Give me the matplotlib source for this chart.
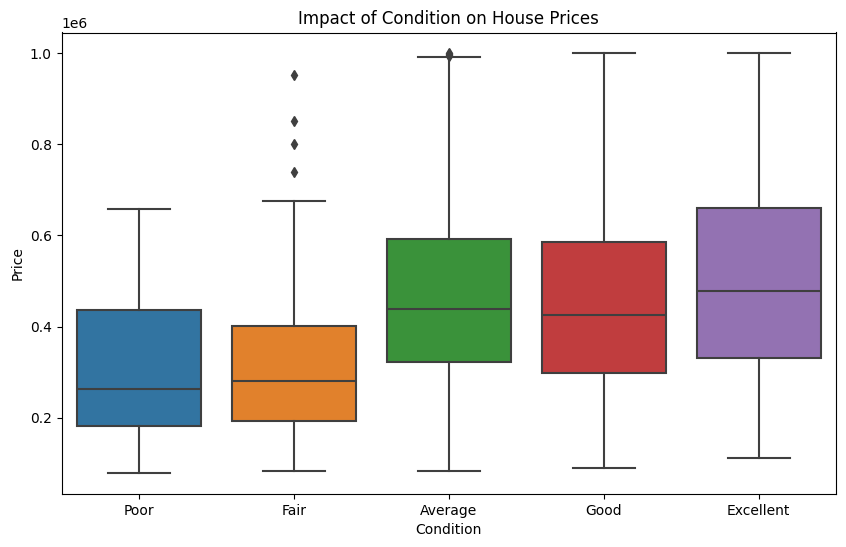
import matplotlib
matplotlib.use("Agg")
import matplotlib.pyplot as plt

# Box statistics (prices in dollars)
conditions = ["Poor", "Fair", "Average", "Good", "Excellent"]
whisker_low = [78000, 83000, 82000, 89000, 110000]
q1 = [182000, 193000, 322000, 297000, 330000]
median = [263000, 281000, 438000, 426000, 478000]
q3 = [436000, 401000, 592000, 586000, 660000]
whisker_high = [658000, 675000, 992000, 1000000, 1000000]
outliers = [
    [],
    [740000, 800000, 851000, 952000],
    [994500, 997000, 999000, 1000000],
    [],
    [],
]

box_colors = ["#3274a1", "#e1812c", "#3a923a", "#c03d3e", "#9372b2"]
line_gray = "#3f3f3f"

stats = []
for name, lo, a, m, b, hi, fl in zip(conditions, whisker_low, q1, median, q3,
                                     whisker_high, outliers):
    stats.append({"label": name, "whislo": lo, "q1": a, "med": m,
                  "q3": b, "whishi": hi, "fliers": fl})

fig = plt.figure(figsize=(8.46, 5.47), dpi=100)
ax = fig.add_axes([61.5 / 846, 53 / 547, 774.5 / 846, 461.5 / 547])

line_kw = dict(color=line_gray, linewidth=1.5)
bp = ax.bxp(
    stats,
    positions=range(len(conditions)),
    widths=0.8,
    patch_artist=True,
    boxprops=dict(edgecolor=line_gray, linewidth=1.5),
    medianprops=line_kw,
    whiskerprops=line_kw,
    capprops=line_kw,
    flierprops=dict(marker="d", markerfacecolor=line_gray,
                    markeredgecolor=line_gray, markersize=5, linestyle="none"),
    capwidths=0.4,
)
for patch, c in zip(bp["boxes"], box_colors):
    patch.set_facecolor(c)

ax.set_xticks(range(len(conditions)))
ax.set_xticklabels(conditions)
ax.set_xlim(-0.5, len(conditions) - 0.5)
ax.set_title("Impact of Condition on House Prices")
ax.set_xlabel("Condition")
ax.set_ylabel("Price")

fig.savefig("out.png", dpi=100)
